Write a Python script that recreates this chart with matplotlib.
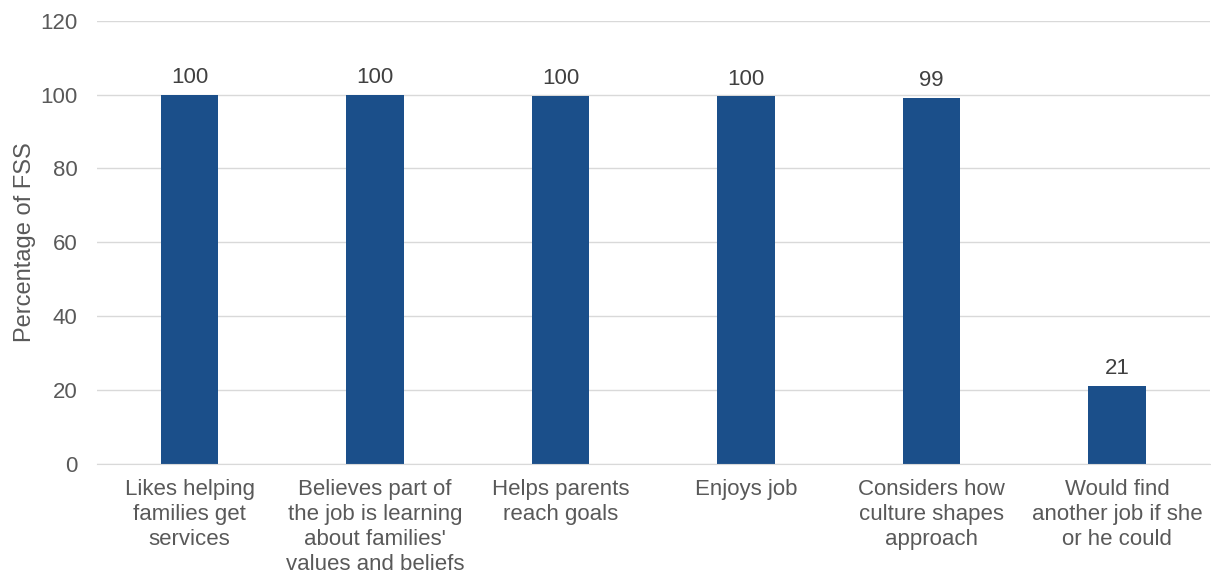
import matplotlib
matplotlib.use("Agg")
import matplotlib.pyplot as plt

categories = [
    "Likes helping\nfamilies get\nservices",
    "Believes part of\nthe job is learning\nabout families'\nvalues and beliefs",
    "Helps parents\nreach goals",
    "Enjoys job",
    "Considers how\nculture shapes\napproach",
    "Would find\nanother job if she\nor he could",
]
values = [100, 100, 99.7, 99.5, 99, 21]
labels = ["100", "100", "100", "100", "99", "21"]
yticks = [0, 20, 40, 60, 80, 100, 120]

plt.rcParams['font.family'] = ['Liberation Sans', 'DejaVu Sans']
text_color = "#595959"

fig = plt.figure(figsize=(12.11, 5.77), dpi=100)
ax = fig.add_axes([0.080, 0.196, 0.919, 0.768])

x = list(range(len(categories)))
bars = ax.bar(x, values, width=0.31, color="#1B4F8A", zorder=3)
for xi, v, lab in zip(x, values, labels):
    ax.annotate(lab, (xi, v), xytext=(0, 5), textcoords="offset points",
                ha="center", va="bottom", fontsize=16, color="#404040")

ax.set_xlim(-0.5, len(categories) - 0.5)
ax.set_ylim(0, 120)
ax.set_yticks(yticks)
ax.set_yticklabels([str(t) for t in yticks], fontsize=16, color=text_color)
ax.set_xticks(x)
ax.set_xticklabels(categories, fontsize=16, color=text_color, linespacing=1.25, va="top")
ax.tick_params(axis="both", length=0)
ax.tick_params(axis="y", pad=14)
ax.tick_params(axis="x", pad=11)
ax.set_ylabel("Percentage of FSS", fontsize=17, color=text_color, labelpad=3)

ax.grid(axis="y", color="#D9D9D9", linewidth=1, zorder=0)
for s in ["top", "right", "left"]:
    ax.spines[s].set_visible(False)
ax.spines["bottom"].set_color("#D9D9D9")
ax.spines["bottom"].set_zorder(4)

fig.savefig("out.png", dpi=100)
